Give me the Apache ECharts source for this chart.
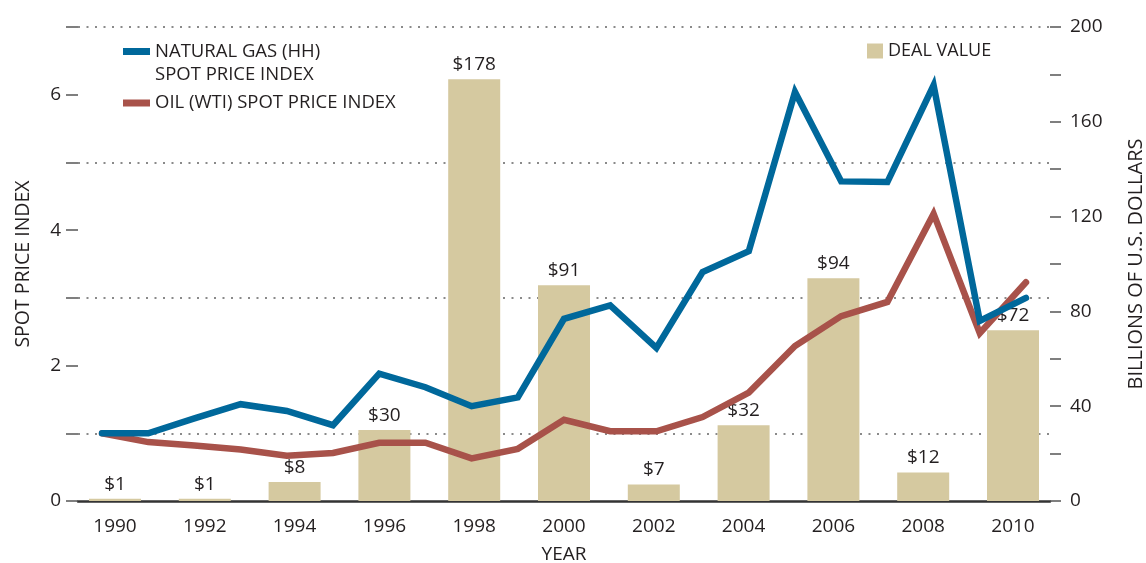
<!DOCTYPE html>
<html><head><meta charset="utf-8">
<script src="https://cdn.jsdelivr.net/npm/echarts@6/dist/echarts.min.js"></script>
<style>html,body{margin:0;padding:0;background:#fff}#c{width:1146px;height:563px}</style>
</head><body><div id="c"></div>
<script>
// ---- data ----
const years = [1990,1991,1992,1993,1994,1995,1996,1997,1998,1999,2000,2001,2002,2003,2004,2005,2006,2007,2008,2009,2010];
const gasIndex = [1.00,1.00,1.22,1.43,1.33,1.12,1.88,1.68,1.40,1.53,2.69,2.89,2.26,3.38,3.69,6.04,4.72,4.71,6.14,2.66,3.00];
const oilIndex = [1.00,0.87,0.82,0.76,0.67,0.71,0.86,0.86,0.63,0.77,1.20,1.03,1.03,1.24,1.60,2.29,2.73,2.94,4.24,2.48,3.23];
const dealYears = [1990,1992,1994,1996,1998,2000,2002,2004,2006,2008,2010];
const dealValues = [1,1,8,30,178,91,7,32,94,12,72];
const xTickLabels = [1990,1992,1994,1996,1998,2000,2002,2004,2006,2008,2010];

const GAS_NAME = 'NATURAL GAS (HH)\nSPOT PRICE INDEX';
const OIL_NAME = 'OIL (WTI) SPOT PRICE INDEX';
const DEAL_NAME = 'DEAL VALUE';

const FONT = "'Open Sans', 'Noto Sans', sans-serif";
const TXT = '#231f20';

const chart = echarts.init(document.getElementById('c'), null, {renderer: 'canvas'});
const option = {
  backgroundColor: '#fff',
  animation: false,
  textStyle: {fontFamily: FONT, color: TXT},
  grid: {left: 78, right: 96, top: 27, bottom: 62, containLabel: false, outerBoundsMode: 'none'},
  legend: [
    {data: [GAS_NAME], left: 123, top: 17, padding: 0, selectedMode: false,
     icon: 'rect', itemWidth: 27, itemHeight: 7,
     formatter: name => ' \n' + name,
     textStyle: {fontFamily: FONT, fontSize: 18.5, color: TXT, lineHeight: 23}},
    {data: [OIL_NAME], left: 123, top: 92, padding: 0, selectedMode: false,
     icon: 'rect', itemWidth: 27, itemHeight: 7,
     textStyle: {fontFamily: FONT, fontSize: 18.5, color: TXT, lineHeight: 22}},
    {data: [DEAL_NAME], left: 867, top: 42, padding: 0, selectedMode: false,
     icon: 'rect', itemWidth: 16, itemHeight: 15,
     textStyle: {fontFamily: FONT, fontSize: 18, color: TXT}}
  ],
  xAxis: [
    {type: 'value', min: 1989.176, max: 2010.824, position: 'bottom',
     axisLine: {show: true, onZero: false, lineStyle: {color: '#333', width: 2.5}},
     axisTick: {show: false}, splitLine: {show: false},
     axisLabel: {customValues: xTickLabels, formatter: v => String(v), fontSize: 19, color: TXT, margin: 16, fontFamily: FONT},
     name: 'YEAR', nameLocation: 'middle', nameGap: 44,
     nameTextStyle: {fontSize: 19, color: TXT, fontFamily: FONT}},
    {type: 'value', min: 1989.48, max: 2010.52, show: false}
  ],
  yAxis: [
    {type: 'value', min: 0, max: 7, interval: 1, position: 'left',
     axisLine: {show: false},
     axisTick: {show: true, length: 12, lineStyle: {color: '#555', width: 1.5}},
     axisLabel: {formatter: v => (v % 2 === 0 ? String(v) : ''), fontSize: 19, color: TXT, margin: 17, fontFamily: FONT},
     splitLine: {show: true, lineStyle: {color: ['rgba(0,0,0,0)', '#8a8a8a'], width: 2, type: [2, 6.5]}},
     name: 'SPOT PRICE INDEX', nameLocation: 'middle', nameGap: 45, nameRotate: 90,
     nameTextStyle: {fontSize: 19.5, color: TXT, fontFamily: FONT}},
    {type: 'value', min: 0, max: 200, interval: 20, position: 'right',
     axisLine: {show: false},
     axisTick: {show: true, length: 11, lineStyle: {color: '#555', width: 1.5}},
     axisLabel: {formatter: v => (v % 40 === 0 ? String(v) : ''), fontSize: 19, color: TXT, margin: 20, fontFamily: FONT},
     splitLine: {show: false},
     name: 'BILLIONS OF U.S. DOLLARS', nameLocation: 'middle', nameGap: 76, nameRotate: 90,
     nameTextStyle: {fontSize: 20, color: TXT, fontFamily: FONT}}
  ],
  series: [
    {name: DEAL_NAME, type: 'bar', xAxisIndex: 0, yAxisIndex: 1, barWidth: 52,
     color: '#d5c9a0', itemStyle: {color: '#d5c9a0'}, z: 2,
     data: dealYears.map((y, i) => [y, dealValues[i]]),
     label: {show: true, position: 'top', distance: 5, formatter: p => '$' + p.value[1],
             fontSize: 19, color: TXT, fontFamily: FONT}},
    {name: GAS_NAME, type: 'line', xAxisIndex: 1, yAxisIndex: 0, symbol: 'none', z: 4,
     color: '#00689b', lineStyle: {color: '#00689b', width: 6.5, cap: 'round', join: 'miter'},
     data: years.map((y, i) => [y, gasIndex[i]])},
    {name: OIL_NAME, type: 'line', xAxisIndex: 1, yAxisIndex: 0, symbol: 'none', z: 3,
     color: '#a8524a', lineStyle: {color: '#a8524a', width: 6.5, cap: 'round', join: 'miter'},
     data: years.map((y, i) => [y, oilIndex[i]])}
  ]
};
chart.setOption(option);
</script></body></html>
